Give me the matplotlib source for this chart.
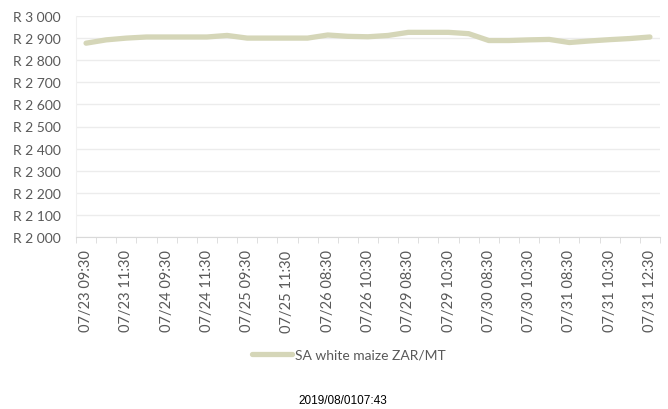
import numpy as np
import matplotlib.pyplot as plt
from matplotlib.ticker import FuncFormatter, FixedLocator

# SA white maize spot price, ZAR per metric ton
tick_labels = ["07/23 09:30", "07/23 11:30", "07/24 09:30", "07/24 11:30",
               "07/25 09:30", "07/25 11:30", "07/26 08:30", "07/26 10:30",
               "07/29 08:30", "07/29 10:30", "07/30 08:30", "07/30 10:30",
               "07/31 08:30", "07/31 10:30", "07/31 12:30"]
prices = [2877, 2892, 2900, 2905, 2905, 2905, 2905, 2912, 2900, 2900,
          2900, 2900, 2914, 2908, 2906, 2912, 2926, 2926, 2926, 2920,
          2889, 2889, 2892, 2894, 2880, 2887, 2893, 2898, 2905]
series_name = "SA white maize ZAR/MT"
stamp = "2019/08/0107:43"

font = ["Lato", "DejaVu Sans"]
grey = "#595959"

fig = plt.figure(figsize=(6.68, 4.10), dpi=100)
ax = fig.add_axes([76/668, 1 - 238/410, (660 - 76)/668, (238 - 17)/410])

x = np.arange(len(prices))
ax.plot(x, prices, color="#d5d6b8", lw=3.8, solid_capstyle="round",
        solid_joinstyle="round", label=series_name)

ax.set_xlim(-0.5, len(prices) - 0.5)
ax.set_ylim(2000, 3000)
ax.set_yticks(np.arange(2000, 3001, 100))
ax.yaxis.set_major_formatter(FuncFormatter(
    lambda v, p: "R " + f"{int(v):,}".replace(",", " ")))
ax.grid(axis="y", color="#ececec", lw=1)
ax.set_axisbelow(True)

ax.set_xticks(x[::2])
ax.set_xticklabels(tick_labels, rotation=90)
ax.xaxis.set_minor_locator(FixedLocator(np.arange(-0.5, len(prices), 1)))
ax.tick_params(axis="x", which="major", length=0, pad=9)
ax.tick_params(axis="x", which="minor", length=4, color="#d9d9d9")
ax.tick_params(axis="y", length=0, pad=11)
for lab in ax.get_xticklabels():
    lab.set_family(font)
    lab.set_fontsize(10.5)
    lab.set_color(grey)
for lab in ax.get_yticklabels():
    lab.set_family(font)
    lab.set_fontsize(10)
    lab.set_color(grey)

for s in ["top", "right"]:
    ax.spines[s].set_visible(False)
ax.spines["left"].set_color("#f0f0f0")
ax.spines["bottom"].set_color("#d9d9d9")

leg = fig.legend(loc="center", bbox_to_anchor=(349/668, 1 - 356/410),
                 frameon=False, handlelength=2.9, handletextpad=0.2,
                 prop={"family": font, "size": 10})
for t in leg.get_texts():
    t.set_color(grey)

fig.text(343/668, 1 - 401/410, stamp, ha="center", va="center",
         fontsize=8.5, family="Liberation Sans", color="black")

fig.savefig("out.png", dpi=100)
